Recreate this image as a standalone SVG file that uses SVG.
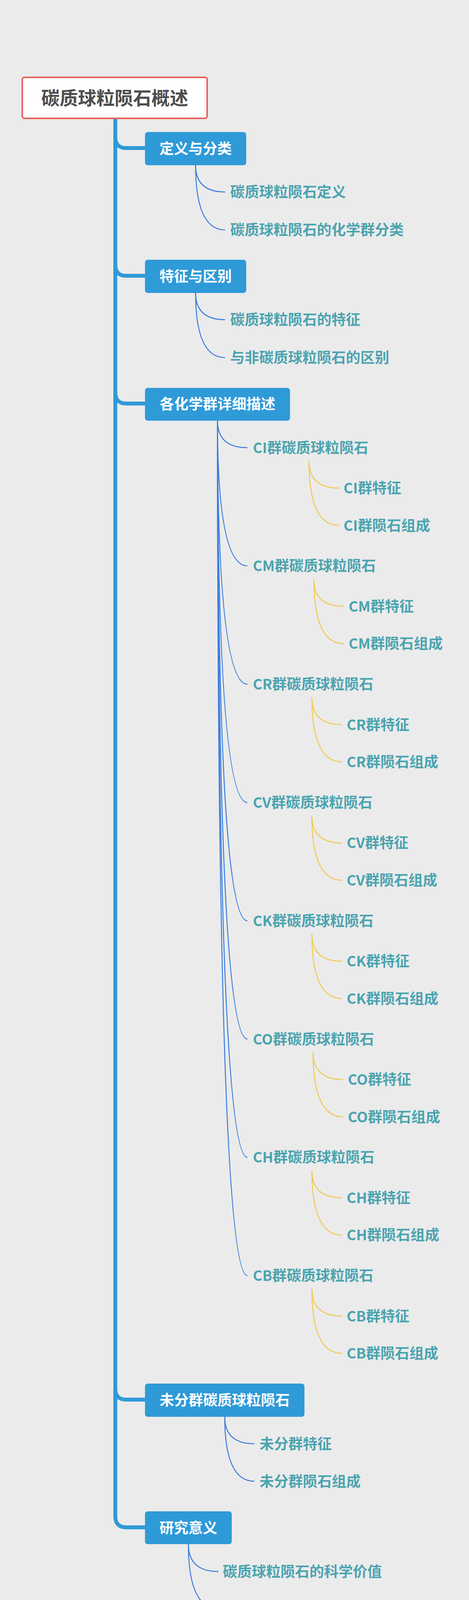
<svg xmlns="http://www.w3.org/2000/svg" width="1200" height="4351" viewBox="0 0 1200 4351">
<style>
.t{font-family:"Noto Sans CJK SC","Liberation Sans",sans-serif;font-weight:bold}
.root{font-size:47px;fill:#4d4d4d}
.l1{font-size:37px;fill:#ffffff}
.lf{font-size:37px;fill:#4ba4b0}
.box{fill:#2f9ad8}
.trunk{fill:none;stroke:#2f9ad8;stroke-width:10;stroke-linecap:butt}
.bl{fill:none;stroke:#3b7ddd;stroke-width:2.5}
.yl{fill:none;stroke:#f1c94f;stroke-width:2.5}
</style>
<rect x="0" y="0" width="1200" height="4351" fill="#ebebeb"/>
<g id="connectors">
<path class="trunk" d="M295 303V351Q295 379 323 379H372"/>
<path class="trunk" d="M295 303V678Q295 706 323 706H372"/>
<path class="trunk" d="M295 303V1005Q295 1033 323 1033H372"/>
<path class="trunk" d="M295 303V3555Q295 3583 323 3583H372"/>
<path class="trunk" d="M295 303V3881Q295 3910 323 3910H372"/>
<path class="bl" d="M500.5 423Q500.5 491.5 576 491.5"/>
<path class="bl" d="M500.5 423Q500.5 588.5 576 588.5"/>
<path class="bl" d="M500.5 750Q500.5 818.5 576 818.5"/>
<path class="bl" d="M500.5 750Q500.5 915.5 576 915.5"/>
<path class="bl" d="M556.5 1077Q556.5 1146 633 1146"/>
<path class="bl" d="M556.5 1077Q556.5 1448.8 633 1448.8"/>
<path class="bl" d="M556.5 1077Q556.5 1751.6 633 1751.6"/>
<path class="bl" d="M556.5 1077Q556.5 2054.4 633 2054.4"/>
<path class="bl" d="M556.5 1077Q556.5 2357.2 633 2357.2"/>
<path class="bl" d="M556.5 1077Q556.5 2660 633 2660"/>
<path class="bl" d="M556.5 1077Q556.5 2962.8 633 2962.8"/>
<path class="bl" d="M556.5 1077Q556.5 3265.6 633 3265.6"/>
<path class="bl" d="M575 3627Q575 3696 651 3696"/>
<path class="bl" d="M575 3627Q575 3792 651 3792"/>
<path class="bl" d="M482 3953Q482 4023 559 4023"/>
<path class="bl" d="M482 3953Q482 4118 559 4118"/>
<path class="yl" d="M790.5 1180Q790.5 1249.5 867.5 1249.5"/>
<path class="yl" d="M790.5 1180Q790.5 1345 867.5 1345"/>
<path class="yl" d="M803 1482.8Q803 1552.3 880 1552.3"/>
<path class="yl" d="M803 1482.8Q803 1647.8 880 1647.8"/>
<path class="yl" d="M798 1785.6Q798 1855.1 875 1855.1"/>
<path class="yl" d="M798 1785.6Q798 1950.6 875 1950.6"/>
<path class="yl" d="M798 2088.4Q798 2157.9 875 2157.9"/>
<path class="yl" d="M798 2088.4Q798 2253.4 875 2253.4"/>
<path class="yl" d="M798 2391.2Q798 2460.7 875 2460.7"/>
<path class="yl" d="M798 2391.2Q798 2556.2 875 2556.2"/>
<path class="yl" d="M801 2694Q801 2763.5 878 2763.5"/>
<path class="yl" d="M801 2694Q801 2859 878 2859"/>
<path class="yl" d="M798 2996.8Q798 3066.3 875 3066.3"/>
<path class="yl" d="M798 2996.8Q798 3161.8 875 3161.8"/>
<path class="yl" d="M798 3299.6Q798 3369.1 875 3369.1"/>
<path class="yl" d="M798 3299.6Q798 3464.6 875 3464.6"/>
</g>
<g id="root">
<rect x="57" y="198" width="473" height="105" rx="6" fill="#ffffff" stroke="#e8605a" stroke-width="4"/>
<text class="t root" x="293.5" y="268" text-anchor="middle">碳质球粒陨石概述</text>
</g>
<g id="n1">
<rect class="box" x="371" y="338" width="259" height="85" rx="7"/>
<text class="t l1" x="500.5" y="394" text-anchor="middle">定义与分类</text>
</g>
<g id="n1a"><text class="t lf" x="589" y="505">碳质球粒陨石定义</text></g>
<g id="n1b"><text class="t lf" x="589" y="602">碳质球粒陨石的化学群分类</text></g>
<g id="n2">
<rect class="box" x="371" y="665" width="259" height="85" rx="7"/>
<text class="t l1" x="500.5" y="721" text-anchor="middle">特征与区别</text>
</g>
<g id="n2a"><text class="t lf" x="589" y="832">碳质球粒陨石的特征</text></g>
<g id="n2b"><text class="t lf" x="589" y="929">与非碳质球粒陨石的区别</text></g>
<g id="n3">
<rect class="box" x="371" y="993" width="371" height="84" rx="7"/>
<text class="t l1" x="556.5" y="1048" text-anchor="middle">各化学群详细描述</text>
</g>
<g id="ci"><text class="t lf" x="647" y="1159.5">CI群碳质球粒陨石</text></g>
<g id="ci1"><text class="t lf" x="879" y="1263">CI群特征</text></g>
<g id="ci2"><text class="t lf" x="879" y="1358.5">CI群陨石组成</text></g>
<g id="cm"><text class="t lf" x="647" y="1462.3">CM群碳质球粒陨石</text></g>
<g id="cm1"><text class="t lf" x="892" y="1565.8">CM群特征</text></g>
<g id="cm2"><text class="t lf" x="892" y="1661.3">CM群陨石组成</text></g>
<g id="cr"><text class="t lf" x="647" y="1765.1">CR群碳质球粒陨石</text></g>
<g id="cr1"><text class="t lf" x="887" y="1868.6">CR群特征</text></g>
<g id="cr2"><text class="t lf" x="887" y="1964.1">CR群陨石组成</text></g>
<g id="cv"><text class="t lf" x="647" y="2067.9">CV群碳质球粒陨石</text></g>
<g id="cv1"><text class="t lf" x="887" y="2171.4">CV群特征</text></g>
<g id="cv2"><text class="t lf" x="887" y="2266.9">CV群陨石组成</text></g>
<g id="ck"><text class="t lf" x="647" y="2370.7">CK群碳质球粒陨石</text></g>
<g id="ck1"><text class="t lf" x="887" y="2474.2">CK群特征</text></g>
<g id="ck2"><text class="t lf" x="887" y="2569.7">CK群陨石组成</text></g>
<g id="co"><text class="t lf" x="647" y="2673.5">CO群碳质球粒陨石</text></g>
<g id="co1"><text class="t lf" x="890" y="2777">CO群特征</text></g>
<g id="co2"><text class="t lf" x="890" y="2872.5">CO群陨石组成</text></g>
<g id="ch"><text class="t lf" x="647" y="2976.3">CH群碳质球粒陨石</text></g>
<g id="ch1"><text class="t lf" x="887" y="3079.8">CH群特征</text></g>
<g id="ch2"><text class="t lf" x="887" y="3175.3">CH群陨石组成</text></g>
<g id="cb"><text class="t lf" x="647" y="3279.1">CB群碳质球粒陨石</text></g>
<g id="cb1"><text class="t lf" x="887" y="3382.6">CB群特征</text></g>
<g id="cb2"><text class="t lf" x="887" y="3478.1">CB群陨石组成</text></g>
<g id="n4">
<rect class="box" x="371" y="3542" width="408" height="85" rx="7"/>
<text class="t l1" x="575" y="3598" text-anchor="middle">未分群碳质球粒陨石</text>
</g>
<g id="n4a"><text class="t lf" x="664" y="3709.5">未分群特征</text></g>
<g id="n4b"><text class="t lf" x="664" y="3805.5">未分群陨石组成</text></g>
<g id="n5">
<rect class="box" x="371" y="3869" width="222" height="84" rx="7"/>
<text class="t l1" x="482" y="3924.5" text-anchor="middle">研究意义</text>
</g>
<g id="n5a"><text class="t lf" x="570" y="4036.5">碳质球粒陨石的科学价值</text></g>
<g id="n5b"><text class="t lf" x="570" y="4131.5">碳质球粒陨石在天体化学中的作用</text></g>
</svg>
